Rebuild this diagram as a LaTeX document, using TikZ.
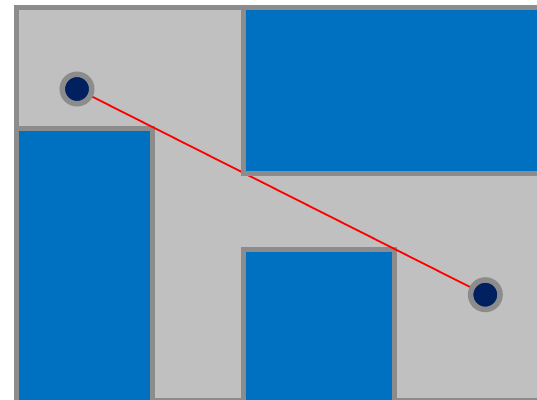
\documentclass[tikz,border=0pt]{standalone}
\definecolor{floor}{HTML}{C0C0C0}
\definecolor{wall}{HTML}{8C8C8C}
\definecolor{block}{HTML}{0070C0}
\definecolor{navy}{HTML}{002060}
\begin{document}
\begin{tikzpicture}[x=1pt,y=-1pt,
  room/.style={draw=wall,line width=5pt,fill=floor},
  obstacle/.style={draw=wall,line width=5pt,fill=block},
  waypoint/.style={circle,draw=wall,line width=5.5pt,fill=navy,minimum size=29.5pt,inner sep=0pt},
  pathline/.style={red,line width=1.8pt}]
\useasboundingbox (0,0) rectangle (537,399);
\draw[room] (16.5,7.5) rectangle (560,400);
\draw[obstacle] (16.5,128.5) rectangle (152.5,420);
\draw[obstacle] (243.5,249.5) rectangle (394.5,420);
\node[waypoint] (a) at (77,89) {};
\node[waypoint] (b) at (485.3,294.7) {};
\draw[pathline] (a) -- (b);
\draw[obstacle] (243.5,7.5) rectangle (560,173.5);
\end{tikzpicture}
\end{document}
